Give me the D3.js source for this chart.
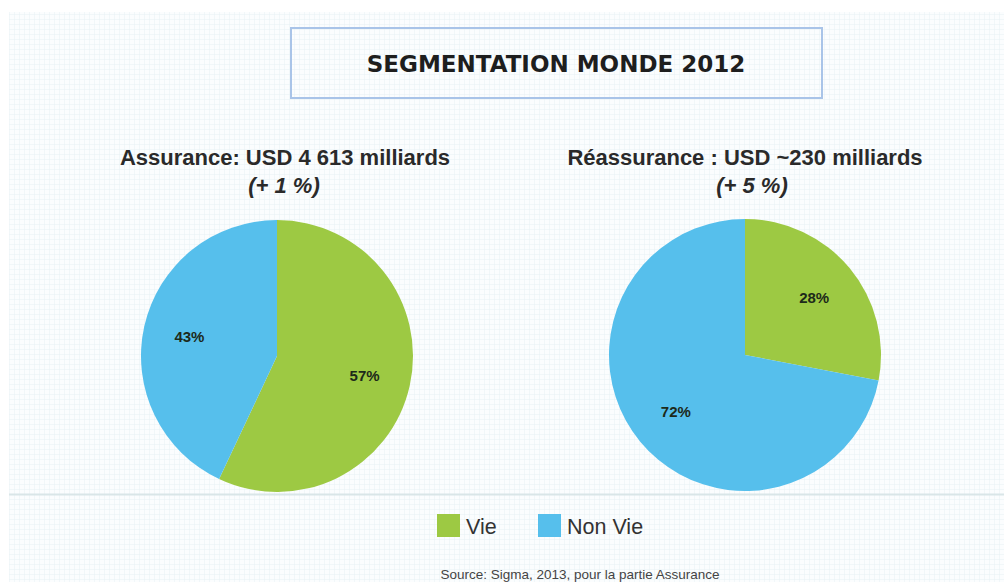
<!DOCTYPE html>
<html>
<head>
<meta charset="utf-8">
<script src="https://cdn.jsdelivr.net/npm/d3@7"></script>
<style>
  body { margin: 0; background: #fff; }
  svg { display: block; }
</style>
</head>
<body>
<div id="chart"></div>
<script>
const chartTitle = "SEGMENTATION MONDE 2012";
const segments = ["Vie", "Non Vie"];
const segmentColors = ["#9dc943", "#56bfec"];

const pieTitles = ["Assurance: USD 4 613 milliards", "Réassurance : USD ~230 milliards"];
const pieGrowth = ["(+ 1 %)", "(+ 5 %)"];
const assuranceShares = [57, 43];
const reassuranceShares = [28, 72];
const sourceNote = "Source: Sigma, 2013, pour la partie Assurance";

const width = 1004, height = 582;

const svg = d3.select("#chart")
    .append("svg")
    .attr("width", width)
    .attr("height", height);

// faint grid paper background
const defs = svg.append("defs");
const pat = defs.append("pattern")
    .attr("id", "grid")
    .attr("width", 5)
    .attr("height", 5)
    .attr("patternUnits", "userSpaceOnUse");
pat.append("rect").attr("width", 5).attr("height", 5).attr("fill", "#fbfdfe");
pat.append("path")
    .attr("d", "M5 0V5H0")
    .attr("fill", "none")
    .attr("stroke", "#e8f2f5")
    .attr("stroke-width", 1);

svg.append("rect")
    .attr("x", 9).attr("y", 12)
    .attr("width", width - 9).attr("height", height - 12)
    .attr("fill", "url(#grid)");

// separator line behind the pies
svg.append("line")
    .attr("x1", 9).attr("x2", width)
    .attr("y1", 494.5).attr("y2", 494.5)
    .attr("stroke", "#d9e6e8")
    .attr("stroke-width", 2);

// title box
svg.append("rect")
    .attr("x", 291).attr("y", 28)
    .attr("width", 531).attr("height", 70)
    .attr("fill", "none")
    .attr("stroke", "#a9c4e8")
    .attr("stroke-width", 2);

svg.append("text")
    .attr("x", 556).attr("y", 72)
    .attr("text-anchor", "middle")
    .style("font-family", "'DejaVu Sans', Verdana, sans-serif")
    .style("font-weight", "bold")
    .style("font-size", "23px")
    .attr("fill", "#1e1e1e")
    .text(chartTitle);

const radius = 136;
const pies = [
    { title: pieTitles[0], growth: pieGrowth[0], values: assuranceShares, cx: 277, cy: 356, titleX: 285 },
    { title: pieTitles[1], growth: pieGrowth[1], values: reassuranceShares, cx: 745, cy: 355, titleX: 745 }
];

const pie = d3.pie().sort(null).value(d => d);
const arc = d3.arc().innerRadius(0).outerRadius(radius);
const labelArc = d3.arc().innerRadius(radius * 0.66).outerRadius(radius * 0.66);

pies.forEach(p => {
    const g = svg.append("g").attr("transform", `translate(${p.cx},${p.cy})`);

    const arcs = pie(p.values);
    g.selectAll("path")
        .data(arcs)
        .join("path")
        .attr("d", arc)
        .attr("fill", (d, i) => segmentColors[i]);

    g.selectAll("text.lbl")
        .data(arcs)
        .join("text")
        .attr("class", "lbl")
        .attr("transform", d => `translate(${labelArc.centroid(d)})`)
        .attr("text-anchor", "middle")
        .attr("dy", "0.35em")
        .style("font-family", "'Liberation Sans', Arial, sans-serif")
        .style("font-weight", "bold")
        .style("font-size", "15px")
        .attr("fill", "#1d2a1a")
        .text(d => d.data + "%");

    svg.append("text")
        .attr("x", p.titleX).attr("y", 165)
        .attr("text-anchor", "middle")
        .style("font-family", "'Liberation Sans', Arial, sans-serif")
        .style("font-weight", "bold")
        .style("font-size", "22px")
        .attr("fill", "#2a2a2a")
        .text(p.title);

    svg.append("text")
        .attr("x", p.cx + 7).attr("y", 193)
        .attr("text-anchor", "middle")
        .style("font-family", "'Liberation Sans', Arial, sans-serif")
        .style("font-weight", "bold")
        .style("font-style", "italic")
        .style("font-size", "22px")
        .attr("fill", "#2a2a2a")
        .text(p.growth);
});

// legend
const legendX = d3.scalePoint().domain(segments).range([437, 538]);
const legend = svg.selectAll("g.legend")
    .data(segments)
    .join("g")
    .attr("class", "legend")
    .attr("transform", d => `translate(${legendX(d)},514)`);

legend.append("rect")
    .attr("width", 23).attr("height", 23)
    .attr("fill", (d, i) => segmentColors[i]);

legend.append("text")
    .attr("x", 29).attr("y", 20)
    .style("font-family", "'Liberation Sans', Arial, sans-serif")
    .style("font-size", "21.5px")
    .attr("fill", "#333")
    .text(d => d);

svg.append("text")
    .attr("x", 580).attr("y", 579)
    .attr("text-anchor", "middle")
    .style("font-family", "'Liberation Sans', Arial, sans-serif")
    .style("font-size", "13.5px")
    .attr("fill", "#444")
    .text(sourceNote);
</script>
</body>
</html>
